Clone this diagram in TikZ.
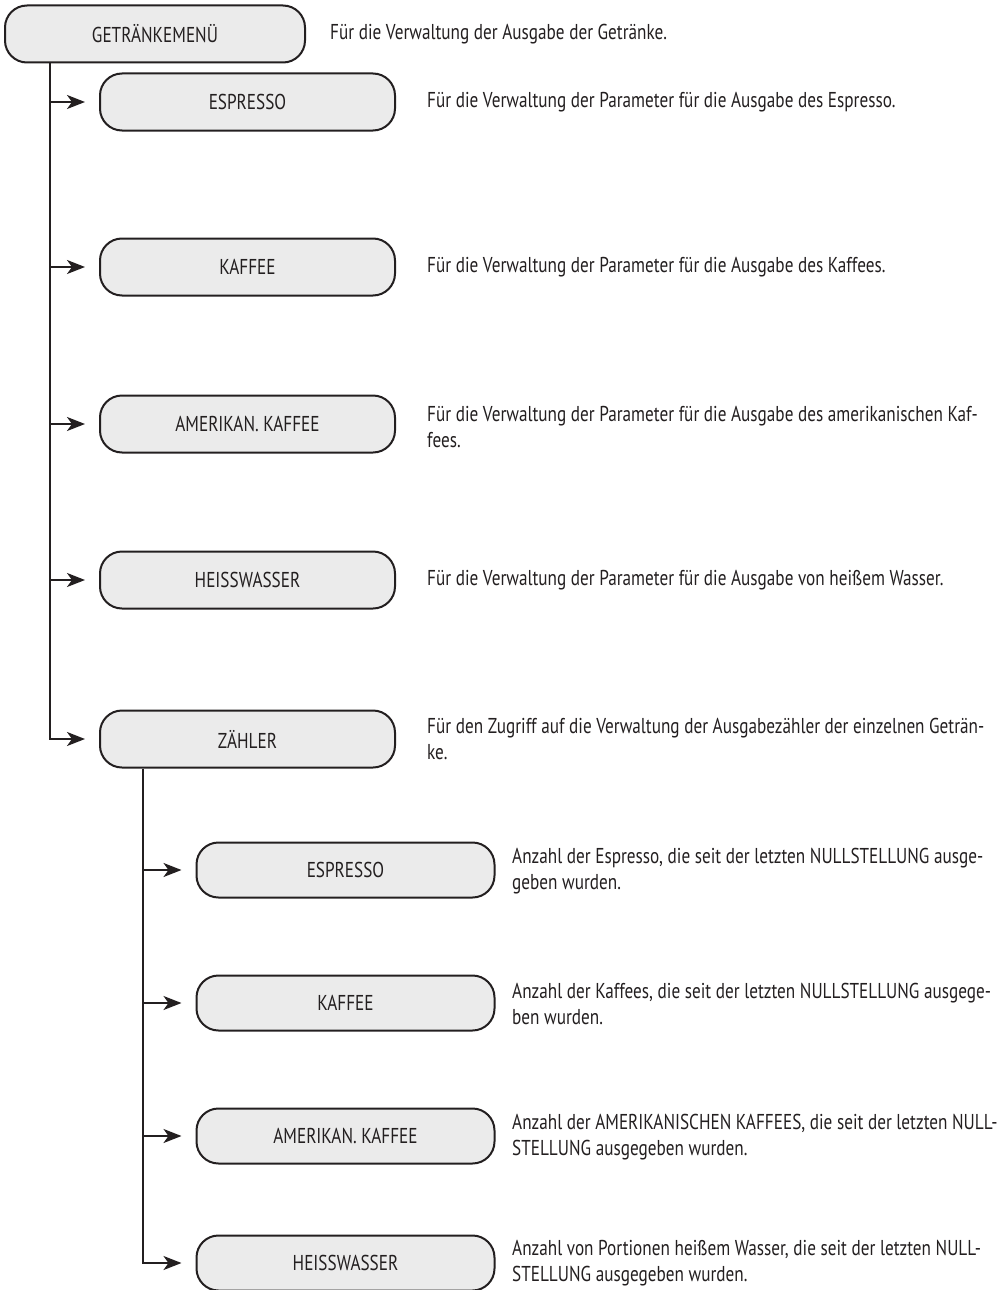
\documentclass[tikz,border=0pt]{standalone}
\usepackage{fontspec}
\setmainfont[FakeStretch=0.8]{PT Sans}
\usetikzlibrary{arrows.meta}
\definecolor{ink}{HTML}{231F20}
\definecolor{boxfill}{HTML}{EBEBEB}
\tikzset{
  menubox/.style={draw=ink, line width=2pt, fill=boxfill, rounded corners=22pt,
    minimum height=57pt, inner sep=0pt, text=ink, font=\fontsize{21.5}{26}\selectfont},
  mainbox/.style={menubox, minimum width=300pt},
  subbox/.style={menubox, minimum width=298pt, minimum height=55pt},
  desc/.style={anchor=west, inner sep=0pt, align=left, text=ink, font=\fontsize{21.5}{26}\selectfont},
  conn/.style={draw=ink, line width=2pt},
  arr/.style={conn, -{Stealth[length=18pt,width=14pt,inset=5pt]}, shorten >=14pt},
}
\begin{document}
\begin{tikzpicture}[x=1pt,y=-1pt]
\useasboundingbox (0,0) rectangle (1000,1290);
% main box
\node[mainbox] (menu) at (155,34) {GETRÄNKEMENÜ};
\node[desc] (dmenu) at (330,34) {Für die Verwaltung der Ausgabe der Getränke.};
% level 1 boxes
\node[mainbox, minimum width=295pt] (esp) at (247.5,102) {ESPRESSO};
\node[mainbox, minimum width=295pt] (kaf) at (247.5,267) {KAFFEE};
\node[mainbox, minimum width=295pt] (ame) at (247.5,424) {AMERIKAN. KAFFEE};
\node[mainbox, minimum width=295pt] (hei) at (247.5,580) {HEISSWASSER};
\node[mainbox, minimum width=295pt] (zae) at (247.5,739) {ZÄHLER};
\node[desc] (desp) at (427,102) {Für die Verwaltung der Parameter für die Ausgabe des Espresso.};
\node[desc] (dkaf) at (427,267) {Für die Verwaltung der Parameter für die Ausgabe des Kaffees.};
\node[desc] (dame) at (427,427) {Für die Verwaltung der Parameter für die Ausgabe des amerikanischen Kaf-\\fees.};
\node[desc] (dhei) at (427,580) {Für die Verwaltung der Parameter für die Ausgabe von heißem Wasser.};
\node[desc] (dzae) at (427,739) {Für den Zugriff auf die Verwaltung der Ausgabezähler der einzelnen Geträn-\\ke.};
% level 2 boxes
\node[subbox] (sesp) at (345.5,870) {ESPRESSO};
\node[subbox] (skaf) at (345.5,1003) {KAFFEE};
\node[subbox] (same) at (345.5,1136) {AMERIKAN. KAFFEE};
\node[subbox] (shei) at (345.5,1263) {HEISSWASSER};
\node[desc] (dsesp) at (512,871) {Anzahl der Espresso, die seit der letzten NULLSTELLUNG ausge-\\geben wurden.};
\node[desc] (dskaf) at (512,1004) {Anzahl der Kaffees, die seit der letzten NULLSTELLUNG ausgege-\\ben wurden.};
\node[desc] (dsame) at (512,1137) {Anzahl der AMERIKANISCHEN KAFFEES, die seit der letzten NULL-\\STELLUNG ausgegeben wurden.};
\node[desc] (dshei) at (512,1263) {Anzahl von Portionen heißem Wasser, die seit der letzten NULL-\\STELLUNG ausgegeben wurden.};
% trunks
\coordinate (t1) at ([xshift=-105pt]menu.south);
\coordinate (t2) at ([xshift=-104.5pt]zae.south);
\draw[arr] (t1) |- (zae.west);
\draw[arr] (esp.west -| t1) -- (esp.west);
\draw[arr] (kaf.west -| t1) -- (kaf.west);
\draw[arr] (ame.west -| t1) -- (ame.west);
\draw[arr] (hei.west -| t1) -- (hei.west);
\draw[arr] (t2) |- (shei.west);
\draw[arr] (sesp.west -| t2) -- (sesp.west);
\draw[arr] (skaf.west -| t2) -- (skaf.west);
\draw[arr] (same.west -| t2) -- (same.west);
\end{tikzpicture}
\end{document}
